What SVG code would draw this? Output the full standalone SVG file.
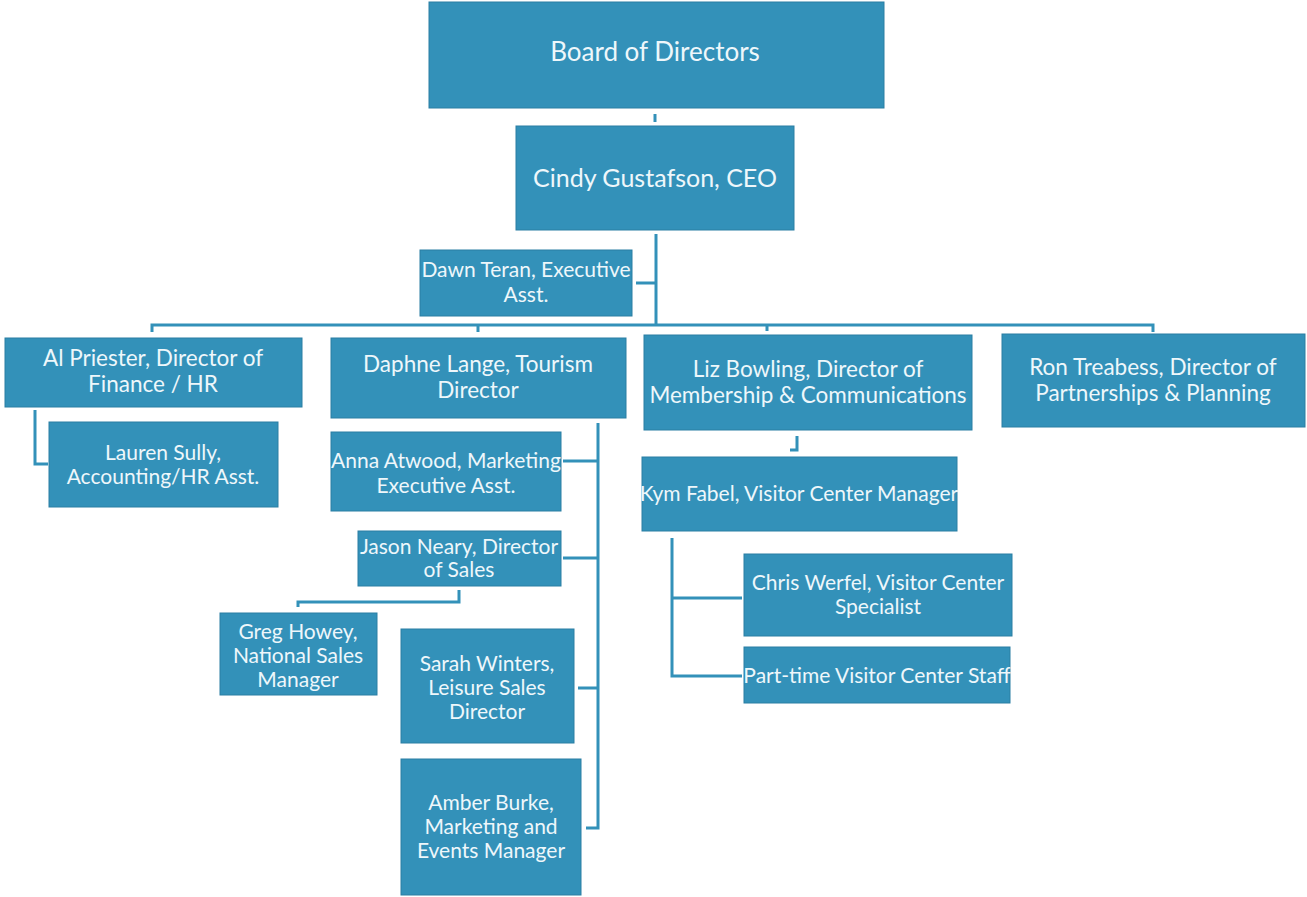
<svg xmlns="http://www.w3.org/2000/svg" width="1307" height="897" viewBox="0 0 1307 897">
<style>
.box{fill:#3391b9;stroke:#2a7ea3;stroke-width:1}
.t{font-family:Lato,"Open Sans","Liberation Sans",sans-serif;font-size:21px;fill:#eef7fb;text-anchor:middle}
.d{font-size:22.5px}
.ln{stroke:#3391b9;stroke-width:3;fill:none}
</style>
<rect width="1307" height="897" fill="#fff"/>
<g id="connectors">
<path class="ln" d="M655 114V122"/>
<path class="ln" d="M656 234V325"/>
<path class="ln" d="M636 283H656"/>
<path class="ln" d="M152 332V325H1153V332"/>
<path class="ln" d="M478 325V332M767 325V331"/>
<path class="ln" d="M35 410V464H48"/>
<path class="ln" d="M598 423V828H586"/>
<path class="ln" d="M563 461H598M563 558H598M578 688H598"/>
<path class="ln" d="M459 590V602H298V607"/>
<path class="ln" d="M797 436V450H790"/>
<path class="ln" d="M672 538V676H742M672 598H742"/>
</g>
<g id="board"><rect class="box" x="429" y="2" width="455" height="106"/><text class="t" style="font-size:26px" x="655" y="61">Board of Directors</text></g>
<g id="ceo"><rect class="box" x="516" y="126" width="278" height="104"/><text class="t" style="font-size:25px" x="655" y="187">Cindy Gustafson, CEO</text></g>
<g id="dawn"><rect class="box" x="420" y="250" width="212" height="66"/><text class="t" x="526" y="277">Dawn Teran, Executive</text><text class="t" x="526" y="302">Asst.</text></g>
<g id="al"><rect class="box" x="5" y="338" width="297" height="69"/><text class="t d" x="153" y="366">Al Priester, Director of</text><text class="t d" x="153" y="392">Finance / HR</text></g>
<g id="daphne"><rect class="box" x="331" y="338" width="295" height="80"/><text class="t d" x="478" y="372">Daphne Lange, Tourism</text><text class="t d" x="478" y="398">Director</text></g>
<g id="liz"><rect class="box" x="644" y="335" width="328" height="95"/><text class="t d" x="808" y="377">Liz Bowling, Director of</text><text class="t d" x="808" y="403">Membership &amp; Communications</text></g>
<g id="ron"><rect class="box" x="1002" y="334" width="303" height="93"/><text class="t d" x="1153" y="375">Ron Treabess, Director of</text><text class="t d" x="1153" y="401">Partnerships &amp; Planning</text></g>
<g id="lauren"><rect class="box" x="49" y="422" width="229" height="85"/><text class="t" x="163" y="460">Lauren Sully,</text><text class="t" x="163" y="484">Accounting/HR Asst.</text></g>
<g id="anna"><rect class="box" x="331" y="432" width="230" height="79"/><text class="t" x="446" y="468">Anna Atwood, Marketing</text><text class="t" x="446" y="493">Executive Asst.</text></g>
<g id="jason"><rect class="box" x="358" y="531" width="203" height="55"/><text class="t" x="459" y="554">Jason Neary, Director</text><text class="t" x="459" y="577">of Sales</text></g>
<g id="greg"><rect class="box" x="220" y="613" width="157" height="82"/><text class="t" x="298" y="639">Greg Howey,</text><text class="t" x="298" y="663">National Sales</text><text class="t" x="298" y="687">Manager</text></g>
<g id="sarah"><rect class="box" x="401" y="629" width="173" height="114"/><text class="t" x="487" y="671">Sarah Winters,</text><text class="t" x="487" y="695">Leisure Sales</text><text class="t" x="487" y="719">Director</text></g>
<g id="amber"><rect class="box" x="401" y="759" width="180" height="136"/><text class="t" x="491" y="810">Amber Burke,</text><text class="t" x="491" y="834">Marketing and</text><text class="t" x="491" y="858">Events Manager</text></g>
<g id="kym"><rect class="box" x="642" y="457" width="315" height="74"/><text class="t" x="799" y="501">Kym Fabel, Visitor Center Manager</text></g>
<g id="chris"><rect class="box" x="744" y="554" width="268" height="82"/><text class="t" x="878" y="590">Chris Werfel, Visitor Center</text><text class="t" x="878" y="614">Specialist</text></g>
<g id="parttime"><rect class="box" x="744" y="647" width="266" height="56"/><text class="t" x="877" y="683">Part-time Visitor Center Staff</text></g>
</svg>
